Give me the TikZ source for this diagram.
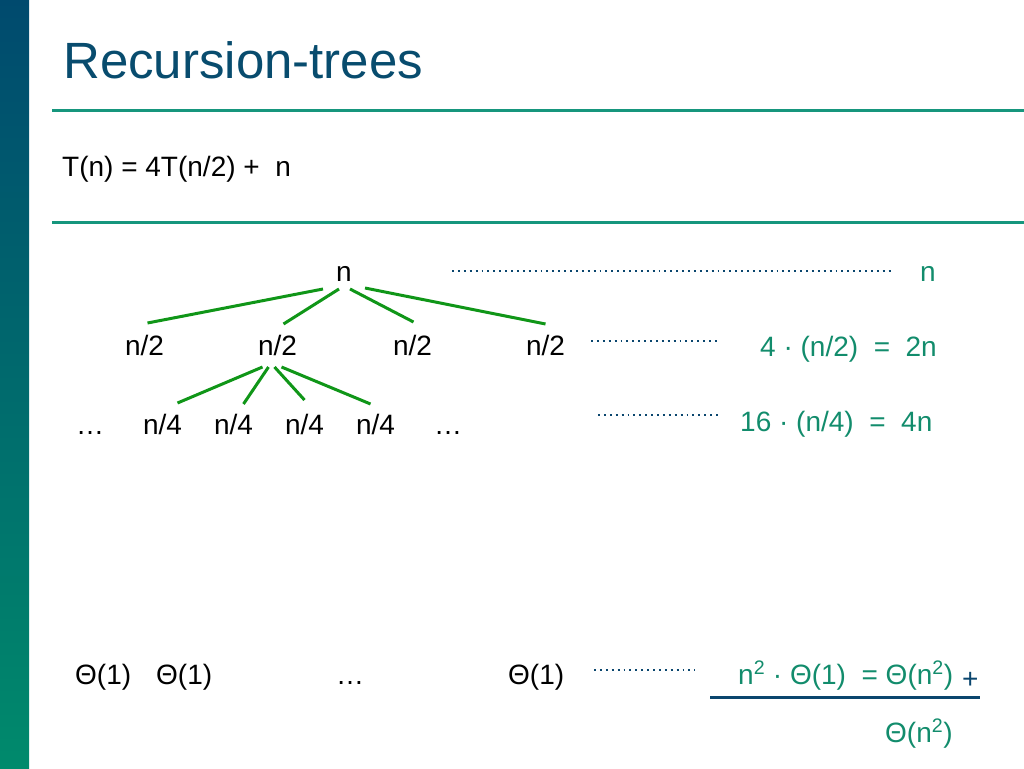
\documentclass[tikz,border=0pt]{standalone}
\usepackage{fontspec}
\setmainfont{Liberation Sans}
\definecolor{titleblue}{RGB}{8,76,110}
\definecolor{rulegreen}{RGB}{22,150,125}
\definecolor{labgreen}{RGB}{18,140,108}
\definecolor{treegreen}{RGB}{16,150,24}
\definecolor{dotblue}{RGB}{10,70,110}
\definecolor{bartop}{RGB}{0,74,110}
\definecolor{barbot}{RGB}{0,138,108}
\begin{document}
\begin{tikzpicture}[x=1pt,y=-1pt,
  txt/.style={inner sep=0pt, font=\fontsize{28}{34}\selectfont, text=black},
  gtxt/.style={txt, text=labgreen},
  edge/.style={draw=treegreen, line width=3pt},
  dotline/.style={draw=dotblue, line width=1.9pt, dash pattern=on 1.9pt off 4pt},
  rulel/.style={draw=rulegreen, line width=3pt}]
\useasboundingbox (0,0) rectangle (1024,768);
\shade[top color=bartop, bottom color=barbot] (0,0) rectangle (29,768);
% title and rules
\node[anchor=base west, inner sep=0pt, font=\fontsize{51}{61}\selectfont, text=titleblue] (title) at (63,78) {Recursion-trees};
\coordinate (r1a) at (52,110); \coordinate (r1b) at (1024,110);
\coordinate (r2a) at (52,222); \coordinate (r2b) at (1024,222);
\draw[rulel] (r1a) -- (r1b);
\draw[rulel] (r2a) -- (r2b);
\node[txt, anchor=base west] (rec) at (62,176) {T(n) = 4T(n/2) + \ n};
% tree
\node[txt, anchor=base] (root) at (344,281) {n};
\node[txt, anchor=base] (a) at (144.5,355) {n/2};
\node[txt, anchor=base] (b) at (277.5,355) {n/2};
\node[txt, anchor=base] (c) at (412.5,355) {n/2};
\node[txt, anchor=base] (d) at (545.5,355) {n/2};
\node[txt, anchor=base west] (ldots) at (76,434) {…};
\node[txt, anchor=base] (e) at (162.5,434) {n/4};
\node[txt, anchor=base] (f) at (233.5,434) {n/4};
\node[txt, anchor=base] (g) at (304.5,434) {n/4};
\node[txt, anchor=base] (h) at (375.5,434) {n/4};
\node[txt, anchor=base west] (rdots) at (434,434) {…};
\draw[edge] ([shift={(-21,8)}]root.base) -- ([shift={(3,-32)}]a.base);
\draw[edge] ([shift={(-5,8)}]root.base) -- ([shift={(6,-31)}]b.base);
\draw[edge] ([shift={(6,8)}]root.base) -- ([shift={(1,-33)}]c.base);
\draw[edge] ([shift={(21,7)}]root.base) -- ([shift={(0,-31)}]d.base);
\draw[edge] ([shift={(-15,12)}]b.base) -- ([shift={(15,-31)}]e.base);
\draw[edge] ([shift={(-9,12)}]b.base) -- ([shift={(10,-30)}]f.base);
\draw[edge] ([shift={(-3,12)}]b.base) -- ([shift={(0,-34)}]g.base);
\draw[edge] ([shift={(4,12)}]b.base) -- ([shift={(-5,-30)}]h.base);
% leaves
\node[txt, anchor=base west] (t1) at (75,684) {Θ(1)};
\node[txt, anchor=base west] (t2) at (156,684) {Θ(1)};
\node[txt, anchor=base west] (tdots) at (336,684) {…};
\node[txt, anchor=base west] (t3) at (508,684) {Θ(1)};
% level sums
\node[gtxt, anchor=base west] (s1) at (920,281) {n};
\node[gtxt, anchor=base west] (s2) at (760,356) {4 · (n/2) \ = \ 2n};
\node[gtxt, anchor=base west] (s3) at (740,431) {16 · (n/4) \ = \ 4n};
\node[gtxt, anchor=base west] (s4) at (738,684) {n\textsuperscript{2} · Θ(1) \ = Θ(n\textsuperscript{2})};
\node[gtxt, anchor=base west] (tot) at (885,742) {Θ(n\textsuperscript{2})};
\node[txt, anchor=base west, text=dotblue] (plus) at (962,688) {+};
% dotted leaders
\coordinate (p1a) at (452,271); \coordinate (p1b) at (893,271);
\coordinate (p2a) at (591,341); \coordinate (p2b) at (717,341);
\coordinate (p3a) at (598,415); \coordinate (p3b) at (720,415);
\coordinate (p4a) at (594,670); \coordinate (p4b) at (695,670);
\draw[dotline] (p1a) -- (p1b);
\draw[dotline] (p2a) -- (p2b);
\draw[dotline] (p3a) -- (p3b);
\draw[dotline] (p4a) -- (p4b);
% sum bar
\coordinate (ba) at (710,697); \coordinate (bb) at (980,697);
\draw[draw=dotblue, line width=3pt] (ba) -- (bb);
\end{tikzpicture}
\end{document}
